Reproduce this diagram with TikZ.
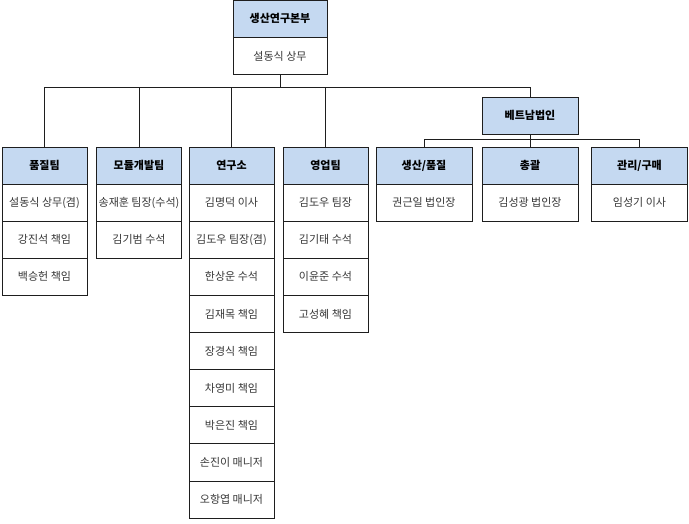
\documentclass[tikz,border=0pt]{standalone}
\usepackage{fontspec}
\setmainfont{Noto Sans CJK KR}
\usepackage{tikz}
\newcommand\cellfont{\fontsize{11}{13}\selectfont}
\definecolor{head_blue}{RGB}{197,217,241}
\definecolor{edge_gray}{RGB}{30,30,30}
\definecolor{text_gray}{RGB}{55,55,55}

\begin{document}
\begin{tikzpicture}[x=1pt,y=-1pt,line width=0.8pt]
    \tikzstyle{cell}=[draw=edge_gray, rectangle, minimum width=85pt, minimum height=37.1pt, inner sep=0pt, fill=white, text=text_gray, font=\cellfont]
    \tikzstyle{head}=[style=cell, fill=head_blue, text=black, font=\cellfont\bfseries]
    \tikzstyle{wide}=[minimum width=96pt]
    \tikzstyle{link}=[draw=edge_gray]
    \useasboundingbox (0,0) rectangle (689,524);

    % top
    \node[head,minimum width=94pt] (hq)  at (280,18.8)  {생산연구본부};
    \node[cell,minimum width=94pt] (hq1) at (280,55.9)  {설동식 상무};

    % left columns
    \node[head] (pq)  at (44.5,165.55) {품질팀};
    \node[cell] (pq1) at (44.5,202.65) {설동식 상무(겸)};
    \node[cell] (pq2) at (44.5,239.75) {강진석 책임};
    \node[cell] (pq3) at (44.5,276.85) {백승헌 책임};

    \node[head] (md)  at (139,165.55) {모듈개발팀};
    \node[cell] (md1) at (139,202.65) {송재훈 팀장(수석)};
    \node[cell] (md2) at (139,239.75) {김기범 수석};

    \node[head] (rd)  at (231.5,165.55) {연구소};
    \node[cell] (rd1) at (231.5,202.65) {김명덕 이사};
    \node[cell] (rd2) at (231.5,239.75) {김도우 팀장(겸)};
    \node[cell] (rd3) at (231.5,276.85) {한상운 수석};
    \node[cell] (rd4) at (231.5,313.95) {김재목 책임};
    \node[cell] (rd5) at (231.5,351.05) {장경식 책임};
    \node[cell] (rd6) at (231.5,388.15) {차영미 책임};
    \node[cell] (rd7) at (231.5,425.25) {박은진 책임};
    \node[cell] (rd8) at (231.5,462.35) {손진이 매니저};
    \node[cell] (rd9) at (231.5,499.45) {오항엽 매니저};

    \node[head] (sl)  at (325.5,165.55) {영업팀};
    \node[cell] (sl1) at (325.5,202.65) {김도우 팀장};
    \node[cell] (sl2) at (325.5,239.75) {김기태 수석};
    \node[cell] (sl3) at (325.5,276.85) {이윤준 수석};
    \node[cell] (sl4) at (325.5,313.95) {고성혜 책임};

    % vietnam
    \node[head,wide] (vn)  at (530,115.5)  {베트남법인};
    \node[head,wide] (vp)  at (424,165.55) {생산/품질};
    \node[cell,wide] (vp1) at (424,202.65) {권근일 법인장};
    \node[head,wide] (vg)  at (530,165.55) {총괄};
    \node[cell,wide] (vg1) at (530,202.65) {김성광 법인장};
    \node[head,wide] (vm)  at (639.5,165.55) {관리/구매};
    \node[cell,wide] (vm1) at (639.5,202.65) {임성기 이사};

    % connectors
    \coordinate (bus)  at (280,87);
    \coordinate (vbus) at (530,139.5);
    \draw[link] (hq1.south) -- (bus);
    \foreach \n in {pq,md,rd,sl,vn} \draw[link] (bus) -| (\n.north);
    \draw[link] (vn.south) -- (vbus);
    \foreach \n in {vp,vg,vm} \draw[link] (vbus) -| (\n.north);
\end{tikzpicture}
\end{document}
